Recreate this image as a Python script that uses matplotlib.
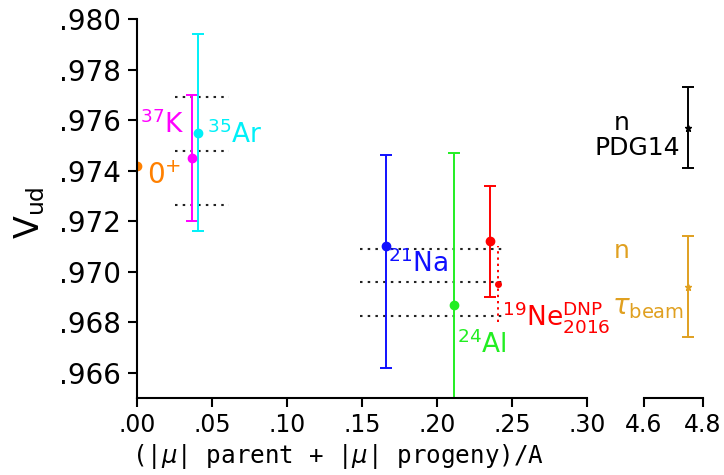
import numpy as np
import matplotlib
matplotlib.use("Agg")
import matplotlib.pyplot as plt
from matplotlib.ticker import FuncFormatter

# nuclear data: x = (|mu| parent + |mu| progeny)/A, Vud with asymmetric errors
labels = ['0$^{+}$', '$^{37}$K', '$^{35}$Ar', '$^{21}$Na', '$^{24}$Al', '$^{19}$Ne$^{\\rm DNP}_{2016}$']
colors = ['#ff8000', '#ff00ff', '#00f0f8', '#1010ff', '#22ee22', '#ff0000']
x_mu = [0.0, 0.0367, 0.0407, 0.1657, 0.2113, 0.2353]
vud = [0.97417, 0.9745, 0.9755, 0.9710, 0.9687, 0.9712]
err_lo = [0.0, 0.0025, 0.0039, 0.0048, 0.0061, 0.0022]
err_hi = [0.0, 0.0025, 0.0039, 0.0036, 0.0060, 0.0022]

# second 19Ne point (dotted error bar)
ne_x = 0.2407
ne_vud = 0.9695
ne_err = 0.0015

# dotted reference bands
band1_y = [0.9769, 0.97476, 0.97262]
band1_x = [0.0253, 0.0613]
band2_y = [0.97091, 0.9696, 0.96825]
band2_x = [0.1487, 0.244]

# neutron results
n_x = [4.75, 4.75]
n_vud = [0.9757, 0.9694]
n_err = [0.0016, 0.0020]
n_colors = ['black', '#e0a020']

fig = plt.figure(figsize=(7.24, 4.75), dpi=100)
ax = fig.add_axes([0.189, 0.162, 0.622, 0.798])
ax2 = fig.add_axes([0.8895, 0.162, 0.0815, 0.798])

for yy in band1_y:
    ax.plot(band1_x, [yy, yy], ls=(0, (1.2, 2.5)), color='#222222', lw=1.5)
for yy in band2_y:
    ax.plot(band2_x, [yy, yy], ls=(0, (1.2, 2.5)), color='#222222', lw=1.5)

for i in range(len(x_mu)):
    if i == 0:
        ax.plot(x_mu[i], vud[i], 'o', color=colors[i], ms=6, clip_on=True)
        continue
    ax.errorbar(x_mu[i], vud[i], yerr=[[err_lo[i]], [err_hi[i]]], fmt='o',
                color=colors[i], ms=6, capsize=4, elinewidth=1.4, capthick=1.4)

eb = ax.errorbar(ne_x, ne_vud, yerr=ne_err, fmt='o', color='#ff0000', ms=4,
                 capsize=0, elinewidth=1.4)
eb[2][0].set_linestyle((0, (1.2, 2)))

fs = 19
ax.text(0.0067, 0.9738, labels[0], color=colors[0], fontsize=20, va='center', ha='left')
ax.text(0.032, 0.9758, labels[1], color=colors[1], fontsize=fs, va='center', ha='right')
ax.text(0.047, 0.9754, labels[2], color=colors[2], fontsize=fs, va='center', ha='left')
ax.text(0.1675, 0.9703, labels[3], color=colors[3], fontsize=fs, va='center', ha='left')
ax.text(0.2135, 0.9671, labels[4], color=colors[4], fontsize=fs, va='center', ha='left')
ax.text(0.2430, 0.9682, labels[5], color=colors[5], fontsize=fs, va='center', ha='left')

ax.set_xlim(0, 0.30)
ax.set_ylim(0.965, 0.980)
ax.set_xticks(np.arange(0, 0.31, 0.05))
ax.set_yticks(np.arange(0.966, 0.9801, 0.002))
ax.xaxis.set_major_formatter(FuncFormatter(lambda v, p: ('%.2f' % v).lstrip('0')))
ax.yaxis.set_major_formatter(FuncFormatter(lambda v, p: ('%.3f' % v).lstrip('0')))
ax.tick_params(axis='x', labelsize=17, length=6.5, width=1.5, pad=4)
ax.tick_params(axis='y', labelsize=20, length=6.5, width=1.5, pad=5)
for s in ['top', 'right']:
    ax.spines[s].set_visible(False)
ax.spines['left'].set_linewidth(1.5)
ax.spines['bottom'].set_linewidth(1.5)
ax.set_ylabel('V$_{\\rm ud}$', fontsize=24)
ax.yaxis.set_label_coords(-0.2, 0.49)
ax.set_xlabel('(|$\\mu$| parent + |$\\mu$| progeny)/A', fontsize=17.5,
              family='DejaVu Sans Mono')
ax.xaxis.set_label_coords(0.447, -0.155)
ax.xaxis.label.set_va('center')

for i in range(2):
    ax2.errorbar(n_x[i], n_vud[i], yerr=n_err[i], fmt='*', color=n_colors[i], ms=5,
                 capsize=4, elinewidth=1.4, capthick=1.4)
ax2.text(4.525, 0.9759, 'n', color='black', fontsize=18, ha='center', va='center',
         clip_on=False)
ax2.text(4.724, 0.9749, 'PDG14', color='black', fontsize=18, ha='right', va='center',
         clip_on=False)
ax2.text(4.525, 0.9708, 'n', color=n_colors[1], fontsize=18, ha='center', va='center',
         clip_on=False)
ax2.text(4.49, 0.9686, '$\\tau_{\\rm beam}$', color=n_colors[1], fontsize=20,
         ha='left', va='center', clip_on=False)

ax2.set_xlim(4.6, 4.8)
ax2.set_ylim(0.965, 0.980)
ax2.set_xticks([4.6, 4.8])
ax2.set_xticklabels(['4.6', '4.8'])
ax2.set_yticks([])
ax2.tick_params(axis='x', labelsize=17, length=6.5, width=1.5, pad=4)
for s in ['top', 'right', 'left']:
    ax2.spines[s].set_visible(False)
ax2.spines['bottom'].set_linewidth(1.5)
ax2.patch.set_alpha(0)

fig.savefig('out.png', dpi=100)
